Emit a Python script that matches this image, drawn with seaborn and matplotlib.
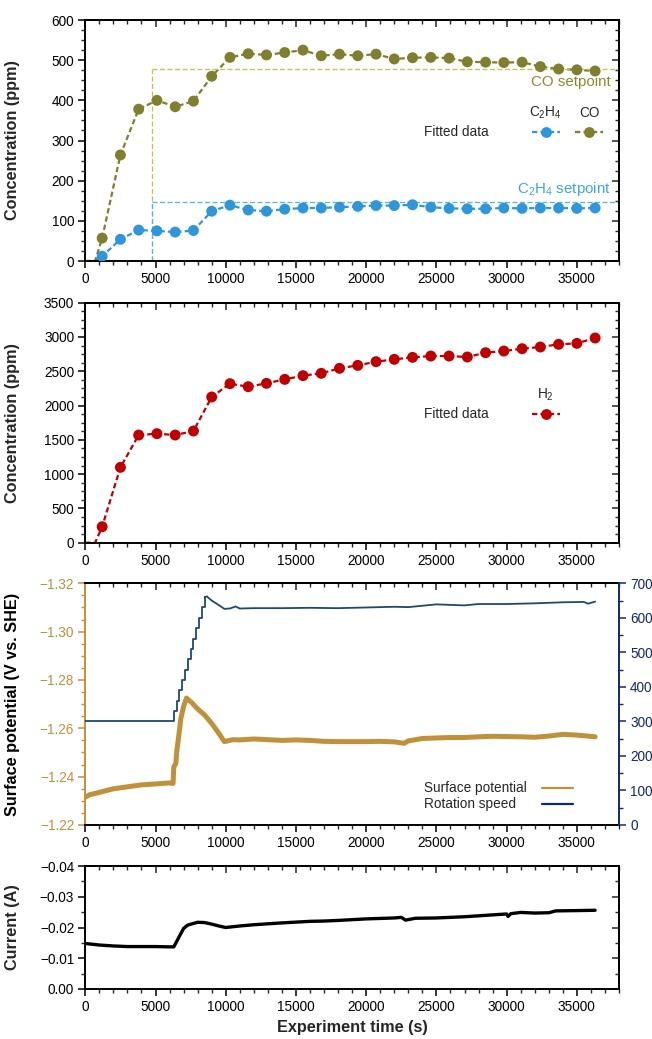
import numpy as np
import pandas as pd
import seaborn as sns
import matplotlib
matplotlib.use("Agg")
import matplotlib.pyplot as plt
from matplotlib.ticker import MultipleLocator, FuncFormatter, NullFormatter

# ---------------- data ----------------
sample_t = [1200, 2500, 3800, 5100, 6400, 7700, 9000, 10300, 11600, 12900, 14200,
            15500, 16800, 18100, 19400, 20700, 22000, 23300, 24600, 25900, 27200,
            28500, 29800, 31100, 32400, 33700, 35000, 36300]
co_ppm = [57, 264, 378, 400, 384, 398, 460, 507, 516, 513, 519, 525, 511, 515, 511,
          515, 503, 506, 507, 505, 496, 495, 494, 495, 484, 478, 476, 473]
c2h4_ppm = [12, 54, 77, 75, 72, 76, 124, 139, 127, 124, 129, 132, 132, 134, 136, 138,
            138, 140, 134, 131, 130, 130, 132, 131, 132, 132, 131, 132]
h2_ppm = [233, 1099, 1570, 1590, 1570, 1629, 2125, 2319, 2275, 2324, 2382, 2436, 2470,
          2543, 2586, 2640, 2674, 2703, 2722, 2722, 2708, 2771, 2795, 2829, 2854, 2893,
          2907, 2985]
fit_start_t = [0, 700]
fit_start_v = [0, 0]

co_setpoint = 477
c2h4_setpoint = 148
setpoint_start = 4750

pot_t = [0, 300, 1000, 2000, 3000, 4000, 5000, 6000, 6250, 6300, 6450, 6500, 6600,
         6700, 6800, 7000, 7200, 7400, 7600, 8000, 8500, 9000, 9500, 9900, 10500,
         11000, 12000, 13000, 14000, 15000, 16000, 17000, 18000, 19000, 20000, 21000,
         22000, 22700, 23000, 24000, 25000, 26000, 27000, 28000, 29000, 30000, 31000,
         32000, 33000, 34000, 35000, 36300]
pot_v = [-1.2315, -1.2325, -1.2335, -1.2350, -1.2358, -1.2366, -1.2370, -1.2374,
         -1.2372, -1.2440, -1.2455, -1.2500, -1.2545, -1.2590, -1.2640, -1.2690,
         -1.2725, -1.2715, -1.2705, -1.2680, -1.2655, -1.2620, -1.2580, -1.2545,
         -1.2553, -1.2552, -1.2556, -1.2553, -1.2550, -1.2552, -1.2550, -1.2546,
         -1.2545, -1.2545, -1.2545, -1.2546, -1.2544, -1.2538, -1.2548, -1.2558,
         -1.2560, -1.2562, -1.2562, -1.2565, -1.2567, -1.2566, -1.2565, -1.2563,
         -1.2568, -1.2575, -1.2572, -1.2565]

stair_t = [0, 6300, 6500, 6700, 6900, 7100, 7300, 7500, 7700, 7900, 8100, 8300, 8500]
stair_v = [300, 330, 360, 390, 420, 450, 480, 510, 540, 570, 600, 630, 660]
rot_t = [8500, 8650, 9000, 9500, 9900, 10300, 10700, 11000, 12000, 14000, 16000,
         18000, 20000, 22000, 23000, 25000, 27000, 28000, 30000, 32000, 34000, 35500,
         35800, 36300]
rot_v = [660, 662, 650, 637, 626, 627, 633, 627, 628, 628, 629, 628, 630, 632, 631,
         639, 636, 640, 640, 642, 645, 646, 641, 647]

cur_t = [0, 1000, 2000, 3000, 4000, 5000, 6000, 6300, 6500, 6800, 7000, 7300, 8000,
         8500, 9000, 9500, 10000, 11000, 12000, 14000, 16000, 17000, 18000, 20000,
         22000, 22500, 22800, 23500, 25000, 27000, 29000, 30000, 30100, 30300, 31000,
         32000, 33000, 33500, 35000, 36300]
cur_v = [-0.0148, -0.0143, -0.0140, -0.0138, -0.0138, -0.0138, -0.0137, -0.0137,
         -0.0154, -0.0180, -0.0197, -0.0208, -0.0217, -0.0216, -0.0211, -0.0205,
         -0.0200, -0.0205, -0.0209, -0.0215, -0.0220, -0.0221, -0.0223, -0.0228,
         -0.0231, -0.0233, -0.0224, -0.0230, -0.0231, -0.0235, -0.0241, -0.0244,
         -0.0236, -0.0245, -0.0249, -0.0247, -0.0248, -0.0254, -0.0255, -0.0256]

x_ticks_max = 38000

# ---------------- style ----------------
sns.set_theme(style="ticks")
plt.rcParams["font.family"] = ["Liberation Sans", "DejaVu Sans"]
plt.rcParams["mathtext.default"] = "regular"
plt.rcParams["axes.linewidth"] = 1.4

CO_C = "#7f7f2e"
C2H4_C = "#2e97db"
H2_C = "#c00000"
CO_SP = "#c6c04c"
C2H4_SP = "#55b2ea"
GOLD = "#c0913a"
NAVY = "#13296b"
ROT_C = "#1d4a6e"

TICK_FS = 9.8
LAB_FS = 11.7


def minus_fmt(fmt):
    return FuncFormatter(lambda v, p: (fmt % v).replace("-", "\u2212"))


def base_ticks(ax, ymaj, ymin, yfmt=None, right_mirror=True):
    ax.set_xlim(0, x_ticks_max)
    ax.xaxis.set_major_locator(MultipleLocator(5000))
    ax.xaxis.set_minor_locator(MultipleLocator(1000))
    ax.yaxis.set_major_locator(MultipleLocator(ymaj))
    ax.yaxis.set_minor_locator(MultipleLocator(ymin))
    if yfmt is not None:
        ax.yaxis.set_major_formatter(yfmt)
    ax.tick_params(which="major", direction="out", length=5, width=1.1,
                   labelsize=TICK_FS, colors="black", pad=3)
    ax.tick_params(which="minor", direction="out", length=3, width=1.0)
    ax.grid(False)
    for s in ax.spines.values():
        s.set_visible(True)
        s.set_linewidth(1.4)
        s.set_color("black")
    top = ax.secondary_xaxis("top")
    top.xaxis.set_major_locator(MultipleLocator(5000))
    top.xaxis.set_minor_locator(MultipleLocator(1000))
    top.xaxis.set_major_formatter(NullFormatter())
    top.tick_params(which="major", direction="in", length=5, width=1.1)
    top.tick_params(which="minor", direction="in", length=3, width=1.0)
    top.spines["top"].set_linewidth(1.4)
    if right_mirror:
        rt = ax.secondary_yaxis("right")
        rt.yaxis.set_major_locator(MultipleLocator(ymaj))
        rt.yaxis.set_minor_locator(MultipleLocator(ymin))
        rt.yaxis.set_major_formatter(NullFormatter())
        rt.tick_params(which="major", direction="in", length=5, width=1.1)
        rt.tick_params(which="minor", direction="in", length=3, width=1.0)
        rt.spines["right"].set_linewidth(1.4)


W, H = 652, 1039
fig = plt.figure(figsize=(W / 100, H / 100), dpi=100)
L = 85.3 / W
AW = (619 - 85.3) / W


def add_ax(top_px, bot_px):
    return fig.add_axes([L, 1 - bot_px / H, AW, (bot_px - top_px) / H])


ylab_x = (20 - 85.3) / (619 - 85.3)

# ---------------- panel 1 ----------------
ax1 = add_ax(20, 261)
dash = (2.4, 1.4)
for vals, col in [(c2h4_ppm, C2H4_C), (co_ppm, CO_C)]:
    sns.lineplot(x=fit_start_t + sample_t, y=fit_start_v + vals, ax=ax1, color=col,
                 lw=1.6, dashes=False, linestyle=(0, dash), sort=False)
    sns.scatterplot(x=sample_t, y=vals, ax=ax1, color=col, s=62, edgecolor="none",
                    zorder=5)
ax1.plot([setpoint_start, x_ticks_max], [co_setpoint, co_setpoint], color=CO_SP,
         lw=0.9, ls=(0, (4, 2)))
ax1.plot([setpoint_start, setpoint_start], [0, co_setpoint], color=CO_SP, lw=0.9,
         ls=(0, (4, 2)))
ax1.plot([setpoint_start, x_ticks_max], [c2h4_setpoint, c2h4_setpoint], color=C2H4_SP,
         lw=0.9, ls=(0, (4, 2)))
ax1.plot([setpoint_start, setpoint_start], [0, c2h4_setpoint], color=C2H4_SP, lw=0.9,
         ls=(0, (4, 2)))
ax1.text(37420, 445, "CO setpoint", color="#8a8a30", fontsize=10.9, ha="right",
         va="center")
ax1.text(37420, 179, "C$_2$H$_4$ setpoint", color="#3ea6e2", fontsize=10.9,
         ha="right", va="center")
ax1.set_ylim(0, 600)
base_ticks(ax1, 100, 25)
ax1.set_xlabel("")
ax1.set_ylabel("Concentration (ppm)", fontsize=LAB_FS, fontweight="bold")
ax1.yaxis.set_label_coords(ylab_x, 0.5)

# legend (panel 1)
tr = ax1.transAxes
ax1.text(0.6346, 0.535, "Fitted data", transform=tr, fontsize=TICK_FS, va="center")
for cx, lab, col in [(0.8627, "C$_2$H$_4$", C2H4_C), (0.9438, "CO", CO_C)]:
    ax1.text(cx, 0.614, lab, transform=tr, fontsize=TICK_FS, ha="center",
             va="center")
    ax1.plot([cx - 0.026, cx + 0.026], [0.535, 0.535], transform=tr, color=col,
             lw=1.6, ls=(0, dash))
    ax1.plot([cx], [0.535], transform=tr, color=col, marker="o", ms=7.8, mew=0)

# ---------------- panel 2 ----------------
ax2 = add_ax(302.7, 542.7)
sns.lineplot(x=fit_start_t + sample_t, y=fit_start_v + h2_ppm, ax=ax2, color=H2_C,
             lw=1.6, linestyle=(0, dash), sort=False)
sns.scatterplot(x=sample_t, y=h2_ppm, ax=ax2, color=H2_C, s=62, edgecolor="none",
                zorder=5)
ax2.set_ylim(0, 3500)
base_ticks(ax2, 500, 125)
ax2.set_xlabel("")
ax2.set_ylabel("Concentration (ppm)", fontsize=LAB_FS, fontweight="bold")
ax2.yaxis.set_label_coords(ylab_x, 0.5)
tr2 = ax2.transAxes
ax2.text(0.6346, 0.536, "Fitted data", transform=tr2, fontsize=TICK_FS, va="center")
ax2.text(0.8627, 0.615, "H$_2$", transform=tr2, fontsize=TICK_FS, ha="center",
         va="center")
ax2.plot([0.8367, 0.8887], [0.536, 0.536], transform=tr2, color=H2_C, lw=1.6,
         ls=(0, dash))
ax2.plot([0.8627], [0.536], transform=tr2, color=H2_C, marker="o", ms=7.8, mew=0)

# ---------------- panel 3 ----------------
ax3 = add_ax(583.3, 825)
ax3r = ax3.twinx()
sns.lineplot(x=pot_t, y=pot_v, ax=ax3, color=GOLD, lw=3.6, zorder=3)
sns.lineplot(x=stair_t, y=stair_v, ax=ax3r, color=ROT_C, lw=1.3, drawstyle="steps-post")
sns.lineplot(x=rot_t, y=rot_v, ax=ax3r, color=ROT_C, lw=1.3)
ax3.set_ylim(-1.22, -1.32)
base_ticks(ax3, 0.02, 0.005, yfmt=minus_fmt("%.2f"), right_mirror=False)
ax3.tick_params(axis="y", which="both", colors=GOLD, labelcolor=GOLD)
ax3.spines["left"].set_color(GOLD)
ax3.spines["right"].set_visible(False)
ax3r.set_ylim(0, 700)
ax3r.yaxis.set_major_locator(MultipleLocator(100))
ax3r.yaxis.set_minor_locator(MultipleLocator(50))
ax3r.tick_params(which="major", direction="out", length=5, width=1.1,
                 labelsize=TICK_FS, colors=NAVY, pad=3)
ax3r.tick_params(which="minor", direction="out", length=3, width=1.0, colors=NAVY)
for s in ["left", "top", "bottom"]:
    ax3r.spines[s].set_visible(False)
ax3r.spines["right"].set_visible(True)
ax3r.spines["right"].set_color(NAVY)
ax3r.spines["right"].set_linewidth(1.4)
ax3r.grid(False)
ax3r.set_ylabel("")
ax3.set_xlabel("")
ax3.set_ylabel("Surface potential (V vs. SHE)", fontsize=LAB_FS, fontweight="bold",
               color="black")
ax3.yaxis.set_label_coords(ylab_x, 0.5)
tr3 = ax3.transAxes
ax3.text(0.6346, 0.153, "Surface potential", transform=tr3, fontsize=TICK_FS,
         va="center")
ax3.text(0.6346, 0.087, "Rotation speed", transform=tr3, fontsize=TICK_FS,
         va="center")
ax3.plot([0.855, 0.914], [0.153, 0.153], transform=tr3, color=GOLD, lw=1.6)
ax3.plot([0.855, 0.914], [0.087, 0.087], transform=tr3, color=NAVY, lw=1.6)

# ---------------- panel 4 ----------------
ax4 = add_ax(866, 989)
sns.lineplot(x=cur_t, y=cur_v, ax=ax4, color="black", lw=2.4)
ax4.set_ylim(0.0, -0.04)
base_ticks(ax4, 0.01, 0.005, yfmt=minus_fmt("%.2f"))
ax4.set_ylabel("Current (A)", fontsize=LAB_FS, fontweight="bold")
ax4.yaxis.set_label_coords(ylab_x, 0.5)
ax4.set_xlabel("Experiment time (s)", fontsize=LAB_FS, fontweight="bold")
ax4.xaxis.set_label_coords(0.5007, -0.252)

fig.savefig("out.png", dpi=100)
